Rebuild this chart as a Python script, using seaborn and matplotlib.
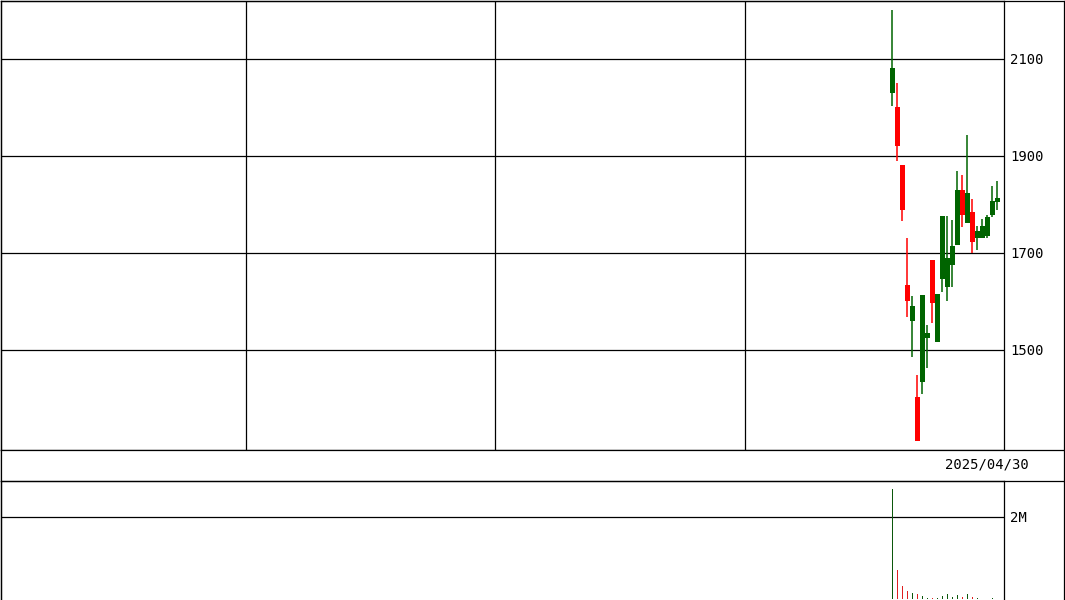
import numpy as np
import pandas as pd
import matplotlib
matplotlib.use("Agg")
import matplotlib.pyplot as plt
import seaborn as sns

# daily candles (price in yen), oldest first
opens = [2029, 2000, 1882, 1633, 1559, 1402, 1433, 1524, 1686, 1516, 1646,
         1629, 1674, 1716, 1830, 1762, 1785, 1731, 1731, 1734, 1777, 1804]
highs = [2200, 2051, 1882, 1730, 1610, 1447, 1612, 1552, 1686, 1614, 1775,
         1775, 1767, 1868, 1861, 1942, 1810, 1756, 1770, 1778, 1837, 1849]
lows = [2002, 1889, 1765, 1567, 1486, 1312, 1408, 1462, 1555, 1516, 1619,
        1600, 1629, 1716, 1754, 1762, 1699, 1706, 1731, 1731, 1773, 1789]
closes = [2082, 1920, 1789, 1600, 1591, 1312, 1612, 1534, 1596, 1614, 1775,
          1689, 1715, 1830, 1777, 1824, 1722, 1745, 1756, 1774, 1806, 1812]
# volume in millions of shares
volumes = [2.68, 0.71, 0.32, 0.20, 0.15, 0.12, 0.07, 0.025, 0.025, 0.025, 0.07,
           0.12, 0.05, 0.10, 0.05, 0.12, 0.05, 0.025, 0.01, 0.01, 0.025, 0.01]
price_ticks = [1500, 1700, 1900, 2100]
volume_ticks = [2]
volume_tick_labels = ["2M"]
last_date = "2025/04/30"

UP = "#006400"
DOWN = "#ff0000"
W, H = 1065, 600

sns.set_style("white")
plt.rcParams["font.family"] = ["DejaVu Sans Mono", "DejaVu Sans"]
plt.rcParams["font.size"] = 10
plt.rcParams["text.color"] = "black"
plt.rcParams["ytick.color"] = "black"

df = pd.DataFrame({"open": opens, "high": highs, "low": lows,
                   "close": closes, "volume": volumes})
df["idx"] = np.arange(len(df))
df["dir"] = np.where(df["close"] >= df["open"], "up", "down")


def box(x0, y0, x1, y1):
    # pixel box (top-left origin) -> figure fraction rect
    return [x0 / W, 1 - y1 / H, (x1 - x0) / W, (y1 - y0) / H]


fig = plt.figure(figsize=(W / 100, H / 100), dpi=100)
lw = 0.9

# outer frame
frame = fig.add_axes(box(0.5, 0.5, 1063.5, 600), zorder=0)
frame.set_xticks([]); frame.set_yticks([])
for s in ["top", "left", "right"]:
    frame.spines[s].set_linewidth(lw); frame.spines[s].set_color("black")
frame.spines["bottom"].set_visible(False)

xlim = (-178.4, 22.4)
vgrid = [-129.3, -79.4, -29.4]

# price panel
ax = fig.add_axes(box(0.5, 0.5, 1004.3, 449.5), zorder=2)
ax.patch.set_alpha(0)
for s in ax.spines.values():
    s.set_linewidth(lw); s.set_color("black")
ax.set_xlim(*xlim)
ax.set_ylim(1294.4, 2220.2)
for p in price_ticks:
    ax.axhline(p, color="black", lw=lw, zorder=1)
for v in vgrid:
    ax.axvline(v, color="black", lw=lw, zorder=1)
colors = df["dir"].map({"up": UP, "down": DOWN})
ax.vlines(df["idx"], df["low"], df["high"], colors=colors, lw=1.1, zorder=3)
body_low = df[["open", "close"]].min(axis=1)
body_h = (df["close"] - df["open"]).abs().clip(lower=2)
ax.bar(df["idx"], body_h, bottom=body_low, width=0.94, color=colors,
       linewidth=0, zorder=4)
ax.yaxis.tick_right()
ax.set_yticks(price_ticks)
ax.set_yticklabels([str(p) for p in price_ticks])
ax.tick_params(axis="y", length=0, pad=4.3, labelsize=10)
ax.set_xticks([])

# date strip
dax = fig.add_axes(box(0.5, 449.5, 1063.5, 480.5), zorder=2)
dax.set_xticks([]); dax.set_yticks([])
for s in dax.spines.values():
    s.set_linewidth(lw); s.set_color("black")
dax.text(944 / 1063, 0.5, last_date, transform=dax.transAxes,
         ha="left", va="center", fontsize=10)

# volume panel
vax = fig.add_axes(box(0.5, 480.5, 1004.3, 600), zorder=2)
vax.patch.set_alpha(0)
for s in ["top", "left", "right"]:
    vax.spines[s].set_linewidth(lw); vax.spines[s].set_color("black")
vax.spines["bottom"].set_visible(False)
for t in volume_ticks:
    vax.axhline(t, color="black", lw=lw, zorder=1)
sns.barplot(data=df, x="idx", y="volume", hue="dir",
            palette={"up": UP, "down": DOWN}, native_scale=True, dodge=False,
            width=0.3, errorbar=None, legend=False, linewidth=0,
            antialiased=False, ax=vax, zorder=3)
vax.set_xlim(*xlim)
vax.set_ylim(-0.025, 2.877)
vax.set_xlabel(""); vax.set_ylabel("")
vax.set_xticks([])
vax.yaxis.tick_right()
vax.set_yticks(volume_ticks)
vax.set_yticklabels(volume_tick_labels)
vax.tick_params(axis="y", length=0, pad=4.3, labelsize=10)

fig.savefig("out.png", dpi=100, facecolor="white")
